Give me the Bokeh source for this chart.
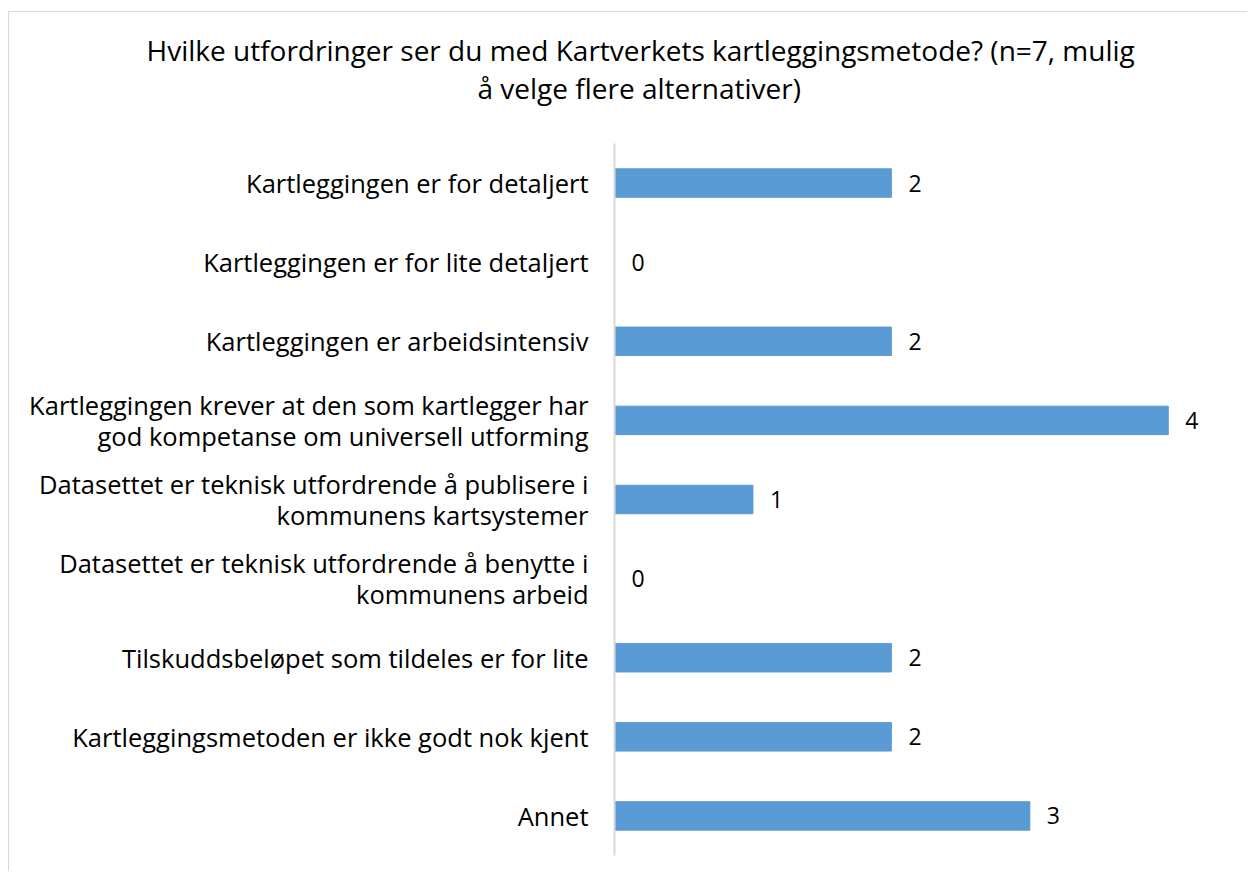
from bokeh.plotting import figure
from bokeh.models import FactorRange, Title
from bokeh.core.properties import value
from bokeh.embed import file_html
from bokeh.resources import INLINE

title_lines = ["Hvilke utfordringer ser du med Kartverkets kartleggingsmetode? (n=7, mulig",
               "å velge flere alternativer)"]
categories = [
    "Kartleggingen er for detaljert",
    "Kartleggingen er for lite detaljert",
    "Kartleggingen er arbeidsintensiv",
    "Kartleggingen krever at den som kartlegger har\ngod kompetanse om universell utforming",
    "Datasettet er teknisk utfordrende å publisere i\nkommunens kartsystemer",
    "Datasettet er teknisk utfordrende å benytte i\nkommunens arbeid",
    "Tilskuddsbeløpet som tildeles er for lite",
    "Kartleggingsmetoden er ikke godt nok kjent",
    "Annet",
]
counts = [2, 0, 2, 4, 1, 0, 2, 2, 3]

FONT = "Open Sans"
OX, OY = 9, 12                      # canvas origin on the page (after margin + border)
W, H = 1248 - OX, 872 - OY
FL, FT, FB = 614 - OX, 143 - OY, 855 - OY
FR = FL + 623

p = figure(width=W, height=H, output_backend="svg", toolbar_location=None,
           y_range=FactorRange(factors=categories[::-1], range_padding=0),
           x_range=(0, 4.5), title=None,
           min_border_left=FL, min_border_right=W - FR, min_border_top=FT,
           min_border_bottom=H - FB)
p.outline_line_color = None
p.background_fill_color = "white"
p.border_fill_color = "white"
p.grid.visible = False
p.xaxis.visible = False
p.styles = {"border-left": "1px solid #d9d9d9", "border-top": "1px solid #d9d9d9",
            "margin-left": "8px", "margin-top": "11px"}

bar_color = "#5B9BD5"
p.hbar(y=categories, right=counts, left=0, height=0.36, color=bar_color, line_color=bar_color)
p.text(x=counts, y=categories, text=[str(c) for c in counts], x_offset=17,
       text_align="left", text_baseline="middle", text_font=value(FONT),
       text_font_size="23px", text_color="black")

ax = p.yaxis[0]
ax.axis_line_color = "#d9d9d9"
ax.axis_line_width = 2
ax.major_tick_line_color = None
ax.minor_tick_line_color = None
ax.major_tick_out = 0
ax.major_tick_in = 0
ax.major_label_standoff = 26
ax.major_label_text_font = FONT
ax.major_label_text_font_size = "25.5px"
ax.major_label_text_color = "black"
ax.major_label_text_line_height = 0.89

# invisible (white) spacer panel between frame and title
p.add_layout(Title(text=".", text_font_size="1px", text_color="white", standoff=32), "above")
# second title line (nearest the plot), then first line
p.add_layout(Title(text=title_lines[1], align="left", offset=(477 - OX) - FL,
                   vertical_align="top", standoff=0,
                   text_font=FONT, text_font_size="28px",
                   text_font_style="normal", text_color="black"), "above")
p.add_layout(Title(text=title_lines[0], align="left", offset=(146 - OX) - FL,
                   vertical_align="bottom", standoff=0,
                   text_font=FONT, text_font_size="28px",
                   text_font_style="normal", text_color="black"), "above")

open("out.html", "w").write(file_html(p, INLINE))
